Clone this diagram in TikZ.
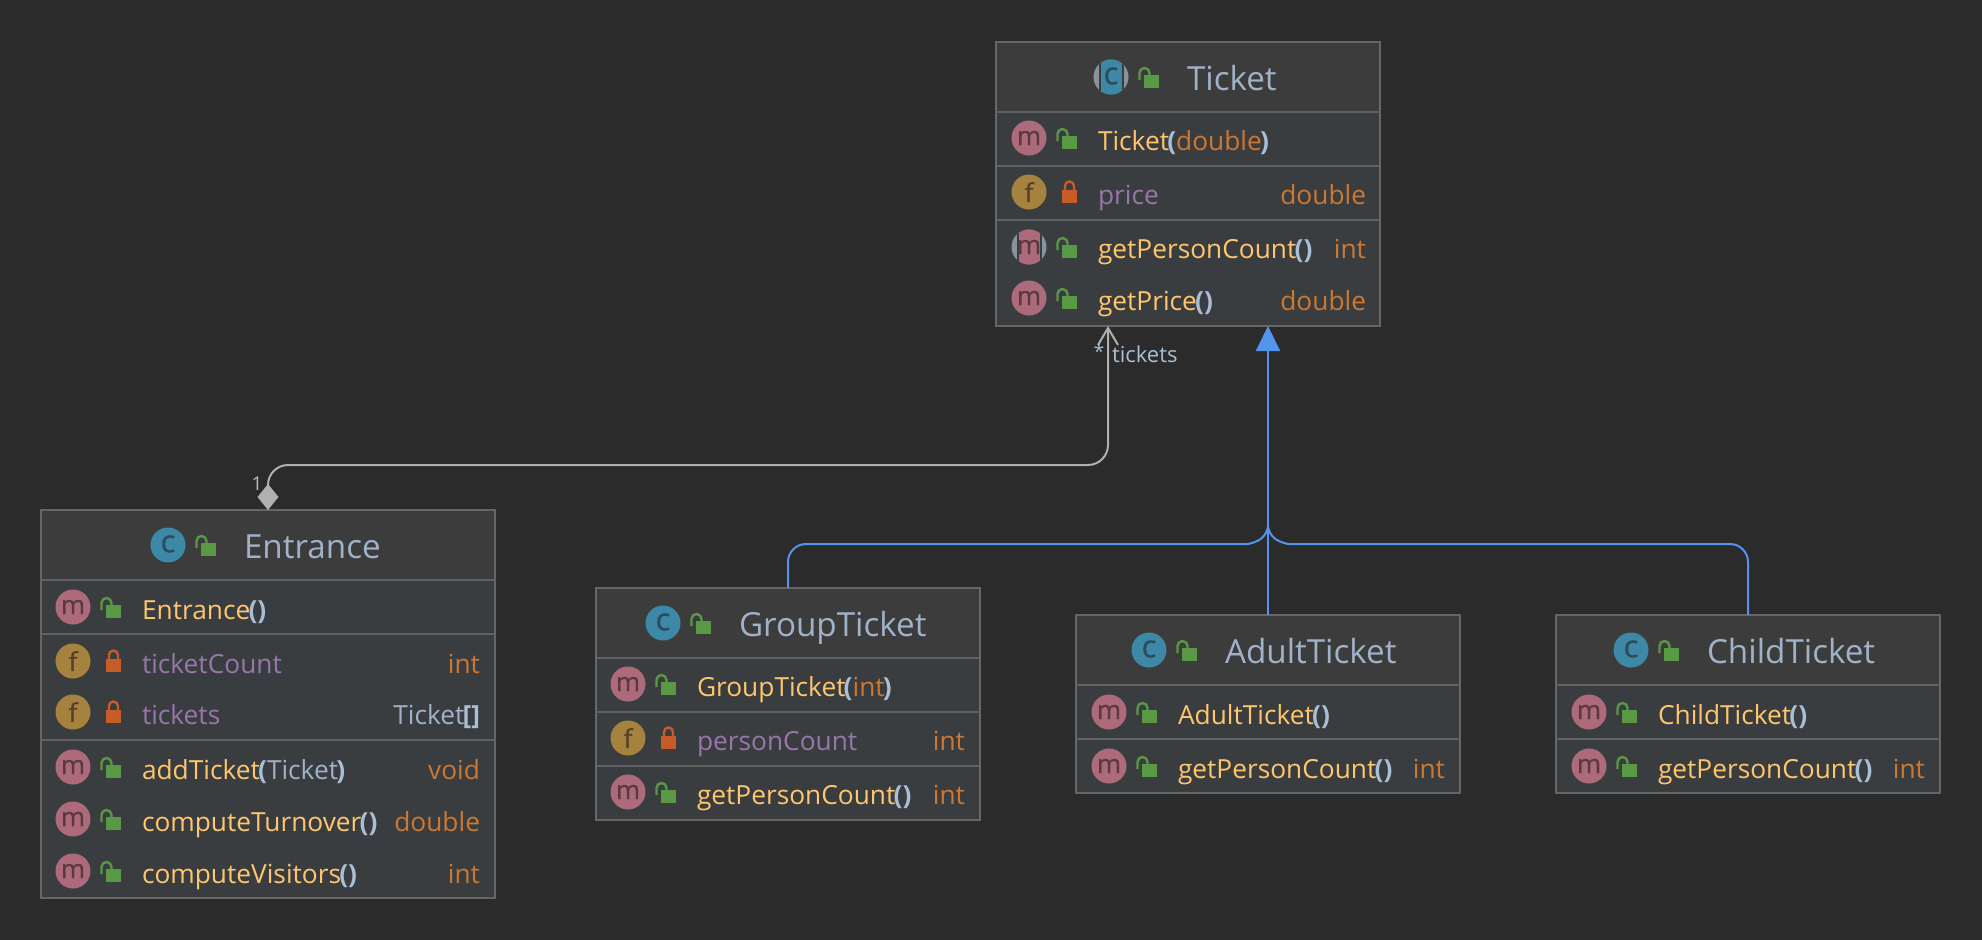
\documentclass[tikz,border=0pt]{standalone}
\usepackage{fontspec}
\setmainfont{Open Sans}
\newfontfamily\glyphfont[FakeBold=0.6]{Open Sans}
\usetikzlibrary{arrows.meta}
\definecolor{bgc}{HTML}{2B2B2B}
\definecolor{headc}{HTML}{3C3C3C}
\definecolor{rowc}{HTML}{3A3D40}
\definecolor{edgec}{HTML}{666666}
\definecolor{sepc}{HTML}{5F6162}
\definecolor{titlec}{HTML}{A0B2C8}
\definecolor{methc}{HTML}{FFC66D}
\definecolor{fieldc}{HTML}{9876AA}
\definecolor{typec}{HTML}{CC7832}
\definecolor{parc}{HTML}{A9BFD6}
\definecolor{micon}{HTML}{AD6A7A}
\definecolor{ficon}{HTML}{A6823F}
\definecolor{cicon}{HTML}{3C88A6}
\definecolor{glyphm}{HTML}{5A3A40}
\definecolor{glyphf}{HTML}{54412A}
\definecolor{glyphc}{HTML}{2C4C5C}
\definecolor{greyicon}{HTML}{87949C}
\definecolor{lockg}{HTML}{599845}
\definecolor{lockr}{HTML}{C75C2A}
\definecolor{bluec}{HTML}{5394EC}
\definecolor{greyc}{HTML}{B0B0B0}
\tikzset{
  classframe/.style={draw=edgec,line width=1.6pt,rectangle,inner sep=0pt,outer sep=0pt},
  sepline/.style={draw=sepc,line width=1.6pt},
  rowtext/.style={inner sep=0pt,outer sep=0pt,anchor=base west,font=\fontsize{26.3}{30}\selectfont},
  rowtype/.style={inner sep=0pt,outer sep=0pt,anchor=base east,font=\fontsize{26.3}{30}\selectfont,text=typec},
  titletext/.style={inner sep=0pt,outer sep=0pt,anchor=base west,text=titlec,font=\fontsize{33.2}{36}\selectfont},
  iconc/.style={circle,inner sep=0pt,outer sep=0pt,minimum size=35pt,text=#1},
  glyph/.style={font=\glyphfont\fontsize{26}{26}\selectfont},
  glyphbig/.style={font=\glyphfont\fontsize{31}{31}\selectfont},
  inherit/.style={draw=bluec,line width=2pt},
  assoc/.style={draw=greyc,line width=2pt},
  labeltext/.style={inner sep=0pt,outer sep=0pt,text=parc,font=\fontsize{22}{24}\selectfont},
}
\newcommand{\pp}[1]{\kern-1.8pt{\color{parc}\bfseries #1}}
\newcommand{\classbox}[6]{% name x0 y0 x1 y1 headbottom
  \fill[headc] (#2,#3) rectangle (#4,#6);
  \fill[rowc] (#2,#6) rectangle (#4,#5);
  \node[classframe,minimum width={(#4-#2)*1pt},minimum height={(#5-#3)*1pt}] (#1) at ({(#2+#4)/2},{(#3+#5)/2}) {};
  \draw[sepline] (#2,#6) -- (#4,#6);
}
\newcommand{\opengl}[2]{% open lock, rect left x, rect top y
  \fill[lockg] (#1,#2) rectangle ({#1+15},{#2+13});
  \draw[lockg,line width=2.4pt] ({#1-4.5},{#2+5}) -- ({#1-4.5},{#2-2}) arc[start angle=180,end angle=360,x radius=5pt,y radius=-5pt] -- ({#1+5.5},{#2+1});
}
\newcommand{\closedl}[2]{% closed lock
  \fill[lockr] (#1,#2) rectangle ({#1+15},{#2+13});
  \draw[lockr,line width=2.4pt] ({#1+3},{#2+1}) -- ({#1+3},{#2-4}) arc[start angle=180,end angle=360,x radius=4.5pt,y radius=-4.5pt] -- ({#1+12},{#2+1});
}
% name, colour, glyph colour, letter, x, y
\newcommand{\roundicon}[6]{%
  \node[iconc=#3,fill=#2] (#1) at (#5,#6) {};
  \node[inner sep=0pt,text=#3,glyph] (#1g) at (#1.center) {#4};
}
\newcommand{\classicon}[5]{% name, x, y, open-lock included
  \node[iconc=glyphc,fill=cicon] (#1) at (#2,#3) {};
  \node[inner sep=0pt,text=glyphc,glyphbig] (#1g) at (#2,{#3-1}) {c};
}
\newcommand{\abstracticon}[7]{%
  \node[iconc=#3,fill=greyicon] (#1) at (#5,#6) {};
  \begin{scope}
    \clip (#5,#6) circle[radius=17.5pt];
    \fill[#7] ({#5-12.5},{#6-18}) rectangle ({#5+12.5},{#6+18});
    \fill[#2] ({#5-10.5},{#6-18}) rectangle ({#5+10.5},{#6+18});
  \end{scope}
}
% method row: name, icon x, icon y, text, type, right x
\newcommand{\mrow}[6]{%
  \roundicon{#1i}{micon}{glyphm}{m}{#2}{#3}
  \opengl{#2+33}{#3-2}
  \node[rowtext,text=methc] (#1t) at ({#2+69},{#3+12.5}) {#4};
  \node[rowtype] (#1r) at (#6,{#3+12.5}) {#5};
}
\newcommand{\frow}[6]{%
  \roundicon{#1i}{ficon}{glyphf}{f}{#2}{#3}
  \closedl{#2+33}{#3-2}
  \node[rowtext,text=fieldc] (#1t) at ({#2+69},{#3+12.5}) {#4};
  \node[rowtype] (#1r) at (#6,{#3+12.5}) {#5};
}
\begin{document}
\begin{tikzpicture}[x=1pt,y=-1pt]
\useasboundingbox (0,0) rectangle (1982,940);
\fill[bgc] (0,0) rectangle (1982,940);

% Ticket
\classbox{ticket}{996}{42}{1380}{326}{112}
\draw[sepline] (996,166) -- (1380,166);
\draw[sepline] (996,220) -- (1380,220);
\abstracticon{tickettc}{cicon}{glyphc}{c}{1111}{77}{headc}
\node[inner sep=0pt,text=glyphc,glyphbig] (tickettcg) at (1111,76) {c};
\opengl{1144}{75}
\node[titletext] (tickettitle) at (1187,90.5) {Ticket};
\mrow{tka}{1029}{138}{Ticket\pp{(}{\color{typec}double}\pp{)}}{}{1366}
\frow{tkb}{1029}{192}{price}{double}{1366}
\abstracticon{tkci}{micon}{glyphm}{m}{1029}{247}{rowc}
\node[inner sep=0pt,text=glyphm,glyph] (tkcig) at (1029,247) {m};
\opengl{1062}{245}
\node[rowtext,text=methc] (tkct) at (1098,258.5) {getPersonCount\pp{()}};
\node[rowtype] (tkcr) at (1366,258.5) {int};
\mrow{tkd}{1029}{298}{getPrice\pp{()}}{double}{1366}

% Entrance
\classbox{entrance}{41}{510}{495}{898}{580}
\draw[sepline] (41,634) -- (495,634);
\draw[sepline] (41,740) -- (495,740);
\classicon{entc}{168}{545}{}{}
\opengl{201}{543}
\node[titletext] (enttitle) at (244,558.5) {Entrance};
\mrow{ena}{73}{607}{Entrance\pp{()}}{}{480}
\frow{enb}{73}{661}{ticketCount}{int}{480}
\frow{enc}{73}{712}{tickets}{{\color{titlec}Ticket}\pp{[]}}{480}
\mrow{end}{73}{767}{addTicket\pp{(}{\color{titlec}Ticket}\pp{)}}{void}{480}
\mrow{ene}{73}{819}{computeTurnover\pp{()}}{double}{480}
\mrow{enf}{73}{871}{computeVisitors\pp{()}}{int}{480}

% GroupTicket
\classbox{group}{596}{588}{980}{820}{658}
\draw[sepline] (596,712) -- (980,712);
\draw[sepline] (596,766) -- (980,766);
\classicon{grc}{663}{623}{}{}
\opengl{696}{621}
\node[titletext] (grtitle) at (739,636.5) {GroupTicket};
\mrow{gra}{628}{684}{GroupTicket\pp{(}{\color{typec}int}\pp{)}}{}{965}
\frow{grb}{628}{738}{personCount}{int}{965}
\mrow{grd}{628}{792}{getPersonCount\pp{()}}{int}{965}

% AdultTicket
\classbox{adult}{1076}{615}{1460}{793}{685}
\draw[sepline] (1076,739) -- (1460,739);
\classicon{adc}{1149}{650}{}{}
\opengl{1182}{648}
\node[titletext] (adtitle) at (1225,663.5) {AdultTicket};
\mrow{ada}{1109}{712}{AdultTicket\pp{()}}{}{1445}
\mrow{adb}{1109}{766}{getPersonCount\pp{()}}{int}{1445}

% ChildTicket
\classbox{child}{1556}{615}{1940}{793}{685}
\draw[sepline] (1556,739) -- (1940,739);
\classicon{chc}{1631}{650}{}{}
\opengl{1664}{648}
\node[titletext] (chtitle) at (1707,663.5) {ChildTicket};
\mrow{cha}{1589}{712}{ChildTicket\pp{()}}{}{1925}
\mrow{chb}{1589}{766}{getPersonCount\pp{()}}{int}{1925}

% Connectors
\coordinate (assocbend) at (268,465);
\coordinate (assoctop) at (1108,465);
\draw[assoc,rounded corners=20pt,{Diamond[width=21pt,length=26pt,fill=greyc]}-{Straight Barb[width=20pt,length=17pt,line width=2pt]}]
  (entrance.north) -- (assocbend) -- (assoctop) -- (assoctop |- ticket.south);
\coordinate (joint) at (1268,527);
\coordinate (leftin) at (1248,544);
\coordinate (rightin) at (1288,544);
\draw[inherit,-{Triangle[width=24pt,length=25pt,fill=bluec]}] (adult.north) -- (adult.north |- ticket.south);
\draw[inherit,rounded corners=18pt] (group.north) |- (leftin);
\draw[inherit] (leftin) .. controls (1262,541) and (1266,535) .. (joint);
\draw[inherit,rounded corners=18pt] (child.north) |- (rightin);
\draw[inherit] (rightin) .. controls (1274,541) and (1270,535) .. (joint);

% Labels
\node[labeltext,anchor=base,font=\fontsize{19}{22}\selectfont] (one) at (257,490) {1};
\node[labeltext,anchor=base,font=\fontsize{19}{22}\selectfont] (star) at (1099,358) {*};
\node[labeltext,anchor=base west] (ticketslabel) at (1112,362) {tickets};
\end{tikzpicture}
\end{document}
